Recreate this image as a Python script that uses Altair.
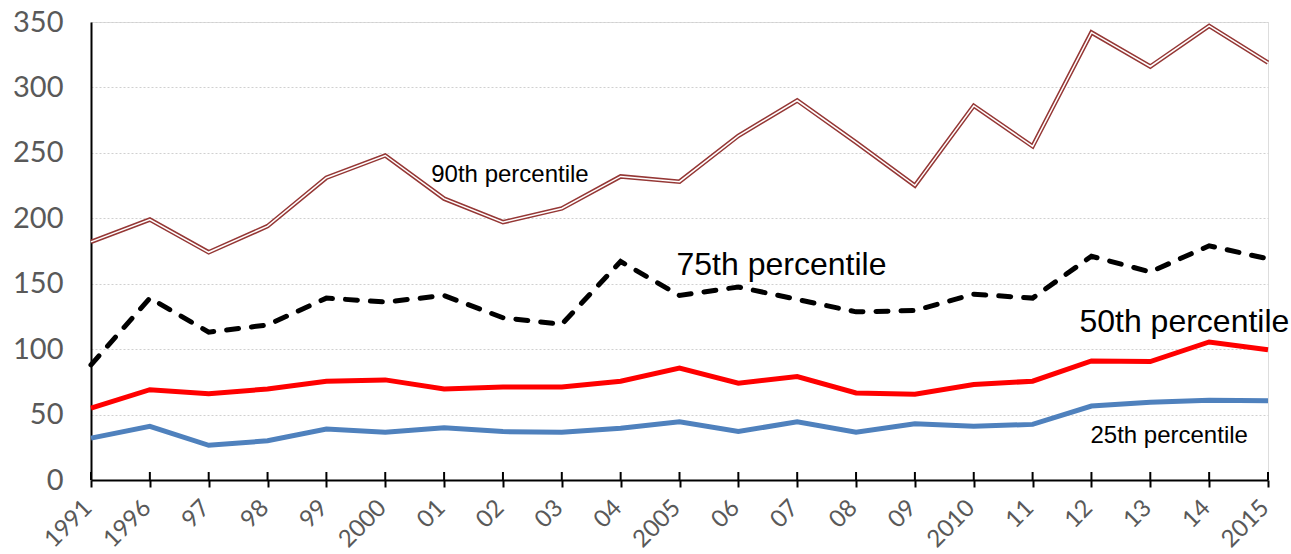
import altair as alt
import pandas as pd

categories = ["1991", "1996", "97", "98", "99", "2000", "01", "02", "03", "04", "2005",
              "06", "07", "08", "09", "2010", "11", "12", "13", "14", "2015"]
p90 = [182, 199, 174, 194, 231, 248, 215, 197, 207.5, 232, 228, 263, 290, 258, 225, 286, 255, 342, 316, 347, 319]
p75 = [88, 139, 113, 118.5, 139, 136, 141, 124, 119, 167, 141, 147.5, 138, 128.5, 129.5, 142, 139, 171, 159, 179, 169]
p50 = [55, 69, 66, 69.5, 75.5, 76.5, 69.5, 71, 71, 75.5, 85.5, 74, 79, 66.5, 65.5, 73, 75.5, 91, 90.5, 105.5, 99.5]
p25 = [32, 41, 26.5, 30, 39, 36.5, 40, 37, 36.5, 39.5, 44.5, 37, 44.5, 36.5, 43, 41, 42.5, 56.5, 59.5, 61, 60.5]

label_text = ["90th percentile", "75th percentile", "50th percentile", "25th percentile"]
label_cat = ["2000", "2005", "12", "12"]
label_val = [227.5, 156.6, 113, 28.2]
label_dx = [46, -3, -12, -1]
label_size = [24, 32, 32, 24]

df = pd.DataFrame({"year": categories, "p90": p90, "p75": p75, "p50": p50, "p25": p25})
ann = pd.DataFrame({"text": label_text, "year": label_cat, "val": label_val})

W, H = 1177, 458

xscale = alt.Scale(type="point", domain=categories, padding=0)
yscale = alt.Scale(domain=[0, 350], nice=False)

x_axis = alt.Axis(
    title=None, labelAngle=-45, labelAlign="right", labelBaseline="middle",
    labelFont="Lato", labelFontSize=24, labelColor="#595959", labelPadding=17,
    labelOffset=-3,
    domainColor="black", domainWidth=2, tickColor="black", tickWidth=2, tickSize=7,
    grid=False, labelOverlap=False,
)
y_axis = alt.Axis(
    title=None, values=list(range(0, 351, 50)), labelFont="Lato", labelFontSize=29,
    labelColor="#595959", labelPadding=28, ticks=False, domainColor="black", domainWidth=2,
    grid=True, gridColor="#D0D0D0", gridDash=[2, 2], gridWidth=1,
)

base = alt.Chart(df)
X = alt.X("year:N", sort=categories, scale=xscale, axis=x_axis)
Xn = alt.X("year:N", sort=categories, scale=xscale)

l90o = base.mark_line(color="#953735", strokeWidth=4.5).encode(
    x=X, y=alt.Y("p90:Q", scale=yscale, axis=y_axis))
l90i = base.mark_line(color="white", strokeWidth=1.5).encode(
    x=Xn, y=alt.Y("p90:Q", scale=yscale))
l75 = base.mark_line(color="black", strokeWidth=5, strokeDash=[12, 13], strokeCap="round").encode(
    x=Xn, y=alt.Y("p75:Q", scale=yscale))
l50 = base.mark_line(color="#FF0000", strokeWidth=5).encode(
    x=Xn, y=alt.Y("p50:Q", scale=yscale))
l25 = base.mark_line(color="#4F81BD", strokeWidth=5).encode(
    x=Xn, y=alt.Y("p25:Q", scale=yscale))

inner_ticks = base.mark_rule(color="black", strokeWidth=2).encode(
    x=Xn, y=alt.value(H - 8), y2=alt.value(H))

texts = []
for i in range(len(label_text)):
    texts.append(
        alt.Chart(ann.iloc[[i]]).mark_text(
            align="left", baseline="alphabetic", font="Liberation Sans",
            fontSize=label_size[i], color="black", dx=label_dx[i]
        ).encode(
            x=Xn,
            y=alt.Y("val:Q", scale=yscale),
            text="text:N",
        )
    )

chart = alt.layer(l90o, l90i, l75, l50, l25, inner_ticks, *texts).properties(
    width=W, height=H,
    autosize=alt.AutoSizeParams(type="none"),
    padding={"left": 91, "top": 22, "right": 23, "bottom": 74},
).configure_view(stroke=None).configure(background="white")

chart.save("out.html", embed_options={"renderer": "svg", "actions": False})
